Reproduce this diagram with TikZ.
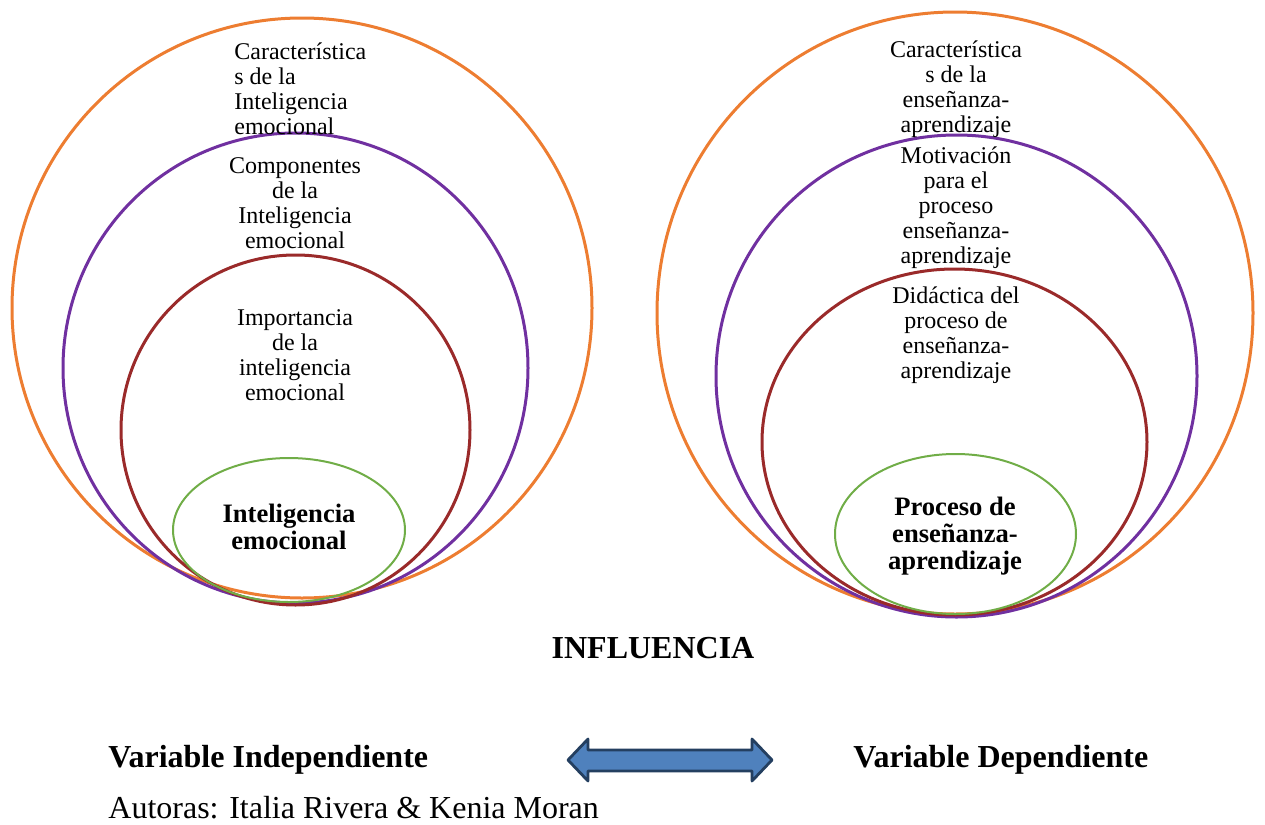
\documentclass[tikz,border=0pt]{standalone}
\usepackage{fontspec}
\setmainfont{Liberation Serif}
\definecolor{ringorange}{HTML}{ED7D31}
\definecolor{ringpurple}{HTML}{7030A0}
\definecolor{ringred}{HTML}{9A2A2A}
\definecolor{ringgreen}{HTML}{70AD47}
\definecolor{arrowfill}{HTML}{4F81BD}
\definecolor{arrowline}{HTML}{243F60}
\tikzset{
    ring/.style={line width=1.5pt},
    label text/.style={inner sep=0pt, align=center, font=\fontsize{12}{12.5}\selectfont},
    core text/.style={inner sep=0pt, align=center, font=\fontsize{13.3}{13.6}\selectfont\bfseries},
    foot text/.style={inner sep=0pt, font=\fontsize{16}{18}\selectfont}
}
\begin{document}
\begin{tikzpicture}[x=0.5pt,y=-0.5pt]
                \useasboundingbox (0,0) rectangle (1265,825);
                % left set of rings
                \draw[ring, ringorange] (302,308) ellipse [x radius=290, y radius=290];
                \draw[ring, ringpurple] (295.5,368) ellipse [x radius=232.5, y radius=235];
                \draw[ring, ringred] (295.5,430) ellipse [x radius=174.5, y radius=175];
                \draw[line width=1pt, ringgreen] (289,530) ellipse [x radius=116, y radius=72];
                % right set of rings
                \draw[ring, ringorange] (955,313) ellipse [x radius=298, y radius=301];
                \draw[ring, ringpurple] (956.5,376) ellipse [x radius=240.5, y radius=241];
                \draw[ring, ringred] (954.5,442) ellipse [x radius=192.5, y radius=173];
                \draw[line width=1pt, ringgreen] (955.5,534) ellipse [x radius=120.5, y radius=80];
                % texts in the rings
                \node[label text, align=left, anchor=west] (caracIE) at (234,89) {Característica\\s de la\\Inteligencia\\emocional};
                \node[label text] (compIE) at (295,203) {Componentes\\de la\\Inteligencia\\emocional};
                \node[label text] (impIE) at (295,355) {Importancia\\de la\\inteligencia\\emocional};
                \node[core text] (IE) at (289,527) {Inteligencia\\emocional};
                \node[label text] (caracEA) at (956,89) {Característica\\s de la\\enseñanza-\\aprendizaje};
                \node[label text] (motivEA) at (956,208) {Motivación\\para el\\proceso\\enseñanza-\\aprendizaje};
                \node[label text] (didacEA) at (956,335) {Didáctica del\\proceso de\\enseñanza-\\aprendizaje};
                \node[core text] (EA) at (955,536) {Proceso de\\enseñanza-\\aprendizaje};
                % bottom part
                \node[foot text, font=\fontsize{16}{18}\selectfont\bfseries] (influ) at (653,648) {INFLUENCIA};
                \node[foot text, font=\fontsize{16}{18}\selectfont\bfseries, anchor=west] (varInd) at (108,760) {Variable Independiente};
                \node[foot text, font=\fontsize{16}{18}\selectfont\bfseries, anchor=west] (varDep) at (853,760) {Variable Dependiente};
                \node[foot text, anchor=west] (autoras) at (108,808) {Autoras: Italia Rivera \& Kenia Moran};
                \draw[line width=1.4pt, arrowline, fill=arrowfill, line join=round]
                    (568,760) -- (588,739) -- (588,750) -- (752,750) -- (752,739) -- (772,760)
                    -- (752,781) -- (752,771) -- (588,771) -- (588,781) -- cycle;
            \end{tikzpicture}
\end{document}
